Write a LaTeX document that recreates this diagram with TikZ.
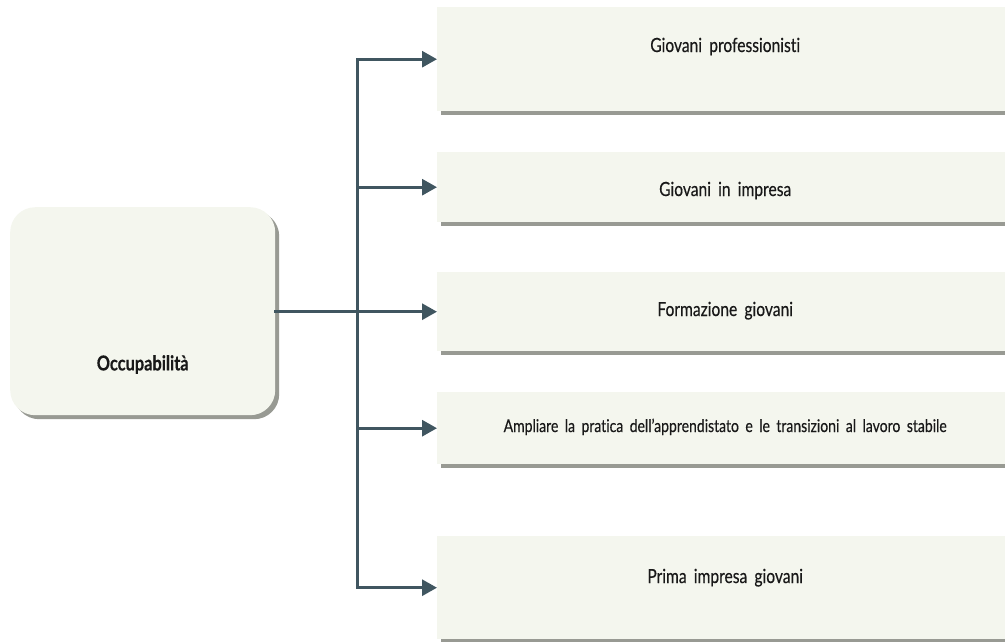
\documentclass[tikz,border=0pt]{standalone}
\usepackage{fontspec}
\setmainfont{Lato}[FakeStretch=0.8,WordSpace=1.8,Ligatures=NoCommon,FakeBold=0.35]
\usetikzlibrary{arrows.meta,shadows}

\definecolor{boxfill}{RGB}{244,246,238}
\definecolor{boxshade}{RGB}{152,154,147}
\definecolor{linkcol}{RGB}{64,86,96}

\begin{document}
\begin{tikzpicture}[x=1pt,y=-1pt,
		itembox/.style={fill=boxfill, draw=none, anchor=north west, minimum width=576pt, inner sep=0pt,
			drop shadow={shadow xshift=4pt, shadow yshift=-4pt, fill=boxshade, opacity=1}},
		occbox/.style={itembox, rounded corners=25pt, minimum width=265pt, minimum height=208pt},
		itemtext/.style={font=\fontsize{19.5}{22}\selectfont, text=black!90, anchor=base, inner sep=0pt},
		trunkline/.style={line width=3pt, color=linkcol, line cap=rect},
		branch/.style={line width=3pt, color=linkcol, -{Triangle[length=15pt,width=16pt]}}]
	\clip (0,0) rectangle (1005,641);

	% left box
	\node[occbox] (occ) at (10,207) {};
	\node[itemtext, font=\fontsize{20.5}{22}\selectfont\bfseries] (occtext) at ([yshift=45pt]occ.south) {Occupabilità};

	% right boxes
	\node[itembox, minimum height=104pt] (b1) at (437,7) {};
	\node[itembox, minimum height=70pt] (b2) at (437,152) {};
	\node[itembox, minimum height=79pt] (b3) at (437,272) {};
	\node[itembox, minimum height=72pt] (b4) at (437,392) {};
	\node[itembox, minimum height=103pt] (b5) at (437,536) {};

	\node[itemtext] (t1) at ([yshift=-45pt]b1.north) {Giovani professionisti};
	\node[itemtext] (t2) at ([yshift=-44pt]b2.north) {Giovani in impresa};
	\node[itemtext] (t3) at ([yshift=-44pt]b3.north) {Formazione giovani};
	\node[itemtext, font=\fontsize{17.5}{20}\selectfont] (t4) at ([yshift=-40pt]b4.north) {Ampliare la pratica dell’apprendistato e le transizioni al lavoro stabile};
	\node[itemtext] (t5) at ([yshift=-47pt]b5.north) {Prima impresa giovani};

	% connectors
	\coordinate (trunk) at (357,311);
	\draw[trunkline] (occ.east) -- (occ.east -| trunk);
	\draw[trunkline] (trunk |- b1.west) -- (trunk |- b5.west);
	\foreach \i in {1,...,5}
		{
			\draw[branch] (trunk |- b\i.west) -- (b\i.west);
		}
\end{tikzpicture}
\end{document}
